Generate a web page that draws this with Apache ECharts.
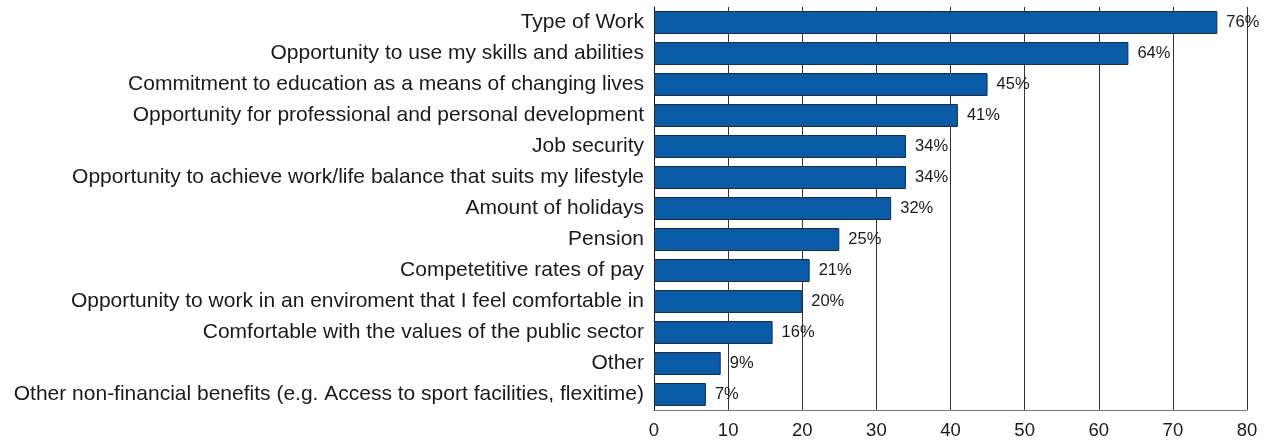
<!DOCTYPE html>
<html>
<head>
<meta charset="utf-8">
<script src="https://cdn.jsdelivr.net/npm/echarts@6/dist/echarts.min.js"></script>
<style>
  html, body { margin: 0; padding: 0; background: #fff; }
  #chart { width: 1271px; height: 441px; }
</style>
</head>
<body>
<div id="chart"></div>
<script>
// Reasons for choosing the job, share of respondents (%)
const categories = [
  'Type of Work',
  'Opportunity to use my skills and abilities',
  'Commitment to education as a means of changing lives',
  'Opportunity for professional and personal development',
  'Job security',
  'Opportunity to achieve work/life balance that suits my lifestyle',
  'Amount of holidays',
  'Pension',
  'Competetitive rates of pay',
  'Opportunity to work in an enviroment that I feel comfortable in',
  'Comfortable with the values of the public sector',
  'Other',
  'Other non-financial benefits (e.g. Access to sport facilities, flexitime)'
];
const values = [76, 64, 45, 41, 34, 34, 32, 25, 21, 20, 16, 9, 7];
const xTicks = [0, 10, 20, 30, 40, 50, 60, 70, 80];

const font = '"Liberation Sans", Arial, Helvetica, sans-serif';
const chart = echarts.init(document.getElementById('chart'));
chart.setOption({
  animation: false,
  grid: { left: 654, right: 24, top: 7, bottom: 31, containLabel: false },
  xAxis: {
    type: 'value',
    min: xTicks[0],
    max: xTicks[xTicks.length - 1],
    interval: 10,
    axisLine: { show: true, lineStyle: { color: '#777', width: 1 } },
    axisTick: { show: false },
    splitLine: { show: true, lineStyle: { color: '#333', width: 1 } },
    axisLabel: { color: '#1a1a1a', fontSize: 18.5, fontFamily: font, margin: 11 }
  },
  yAxis: {
    type: 'category',
    inverse: true,
    data: categories,
    axisLine: { show: true, lineStyle: { color: '#111', width: 1 } },
    axisTick: { show: false },
    axisLabel: { color: '#1a1a1a', fontSize: 21, fontFamily: font, margin: 10 }
  },
  series: [{
    type: 'bar',
    data: values,
    barCategoryGap: '26%',
    itemStyle: { color: '#0a5ba6', borderColor: '#1b2b45', borderWidth: 1 },
    label: {
      show: true,
      position: 'right',
      distance: 9,
      formatter: '{c}%',
      color: '#1a1a1a',
      fontSize: 16.5,
      fontFamily: font
    }
  }]
});
</script>
</body>
</html>
